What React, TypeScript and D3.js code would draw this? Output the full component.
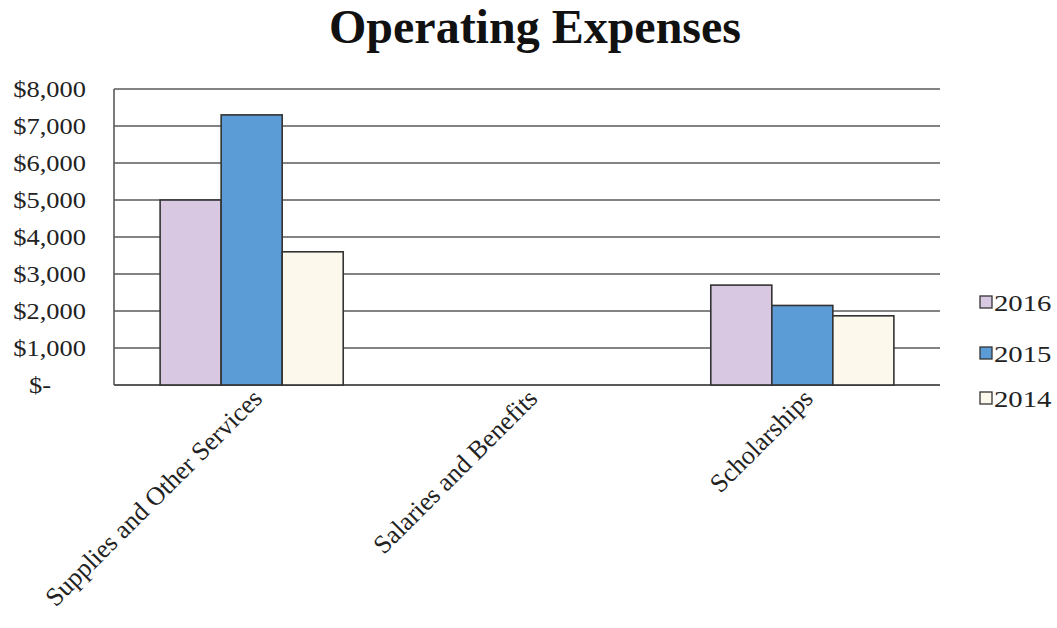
import React from "react";
import * as d3 from "d3";

const categories = ["Supplies and Other Services", "Salaries and Benefits", "Scholarships"];
const seriesNames = ["2016", "2015", "2014"];
const values2016 = [5000, 0, 2700];
const values2015 = [7300, 0, 2150];
const values2014 = [3600, 0, 1870];
const yTicks = [0, 1000, 2000, 3000, 4000, 5000, 6000, 7000, 8000];
const colors = ["#d8c8e2", "#5b9bd6", "#fcf8ec"];

const W = 1057, H = 628;
const left = 114, right = 940, top = 89, bottom = 385;

export default function App() {
  const series = [values2016, values2015, values2014];
  const x0 = d3.scaleBand().domain(categories).range([left, right]).paddingInner(0.335).paddingOuter(0.1675);
  const x1 = d3.scaleBand().domain(seriesNames).range([0, x0.bandwidth()]).padding(0);
  const y = d3.scaleLinear().domain([0, 8000]).range([bottom, top]);
  const fmt = (v: number) => (v === 0 ? "$-" : "$" + d3.format(",")(v));
  return (
    <svg width={W} height={H} style={{ position: "absolute", left: 0, top: 0, background: "#fff" }}>
      <text x={535} y={43} textAnchor="middle" fontFamily="Liberation Serif" fontWeight="bold" fontSize={48} fill="#111">
        Operating Expenses
      </text>
      {yTicks.map((t) => (
        <g key={t}>
          <line x1={left} x2={right} y1={y(t)} y2={y(t)} stroke="#5a5a5a" strokeWidth={t === 0 ? 2.2 : 1.6} />
          <text transform={`translate(${t === 0 ? 40 : 86},${y(t) + 8}) scale(1.15,1)`} textAnchor={t === 0 ? "middle" : "end"}
            fontFamily="Liberation Serif" fontSize={23} fill="#222">
            {fmt(t)}
          </text>
        </g>
      ))}
      <line x1={left} x2={left} y1={top} y2={bottom} stroke="#5a5a5a" strokeWidth={1.6} />
      {categories.map((c, ci) => (
        <g key={c} transform={`translate(${x0(c)},0)`}>
          {seriesNames.map((s, si) => {
            const v = series[si][ci];
            if (v <= 0) return null;
            return (
              <rect key={s} x={x1(s)} y={y(v)} width={x1.bandwidth()} height={y(0) - y(v)}
                fill={colors[si]} stroke="#333" strokeWidth={1.6} />
            );
          })}
        </g>
      ))}
      {categories.map((c) => {
        const cx = (x0(c) as number) + x0.bandwidth() / 2 + 12;
        return (
          <text key={c} transform={`translate(${cx},${400}) rotate(-45)`} textAnchor="end" fontFamily="Liberation Serif" fontSize={26} fill="#222">
            {c}
          </text>
        );
      })}
      {seriesNames.map((s, i) => {
        const ly = [303, 354, 399][i];
        return (
          <g key={s}>
            <rect x={980} y={ly - 7} width={12} height={12} fill={colors[i]} stroke="#333" strokeWidth={1.3} />
            <text transform={`translate(${994},${ly + 8}) scale(1.25,1)`} fontFamily="Liberation Serif" fontSize={23} fill="#222">{s}</text>
          </g>
        );
      })}
    </svg>
  );
}
